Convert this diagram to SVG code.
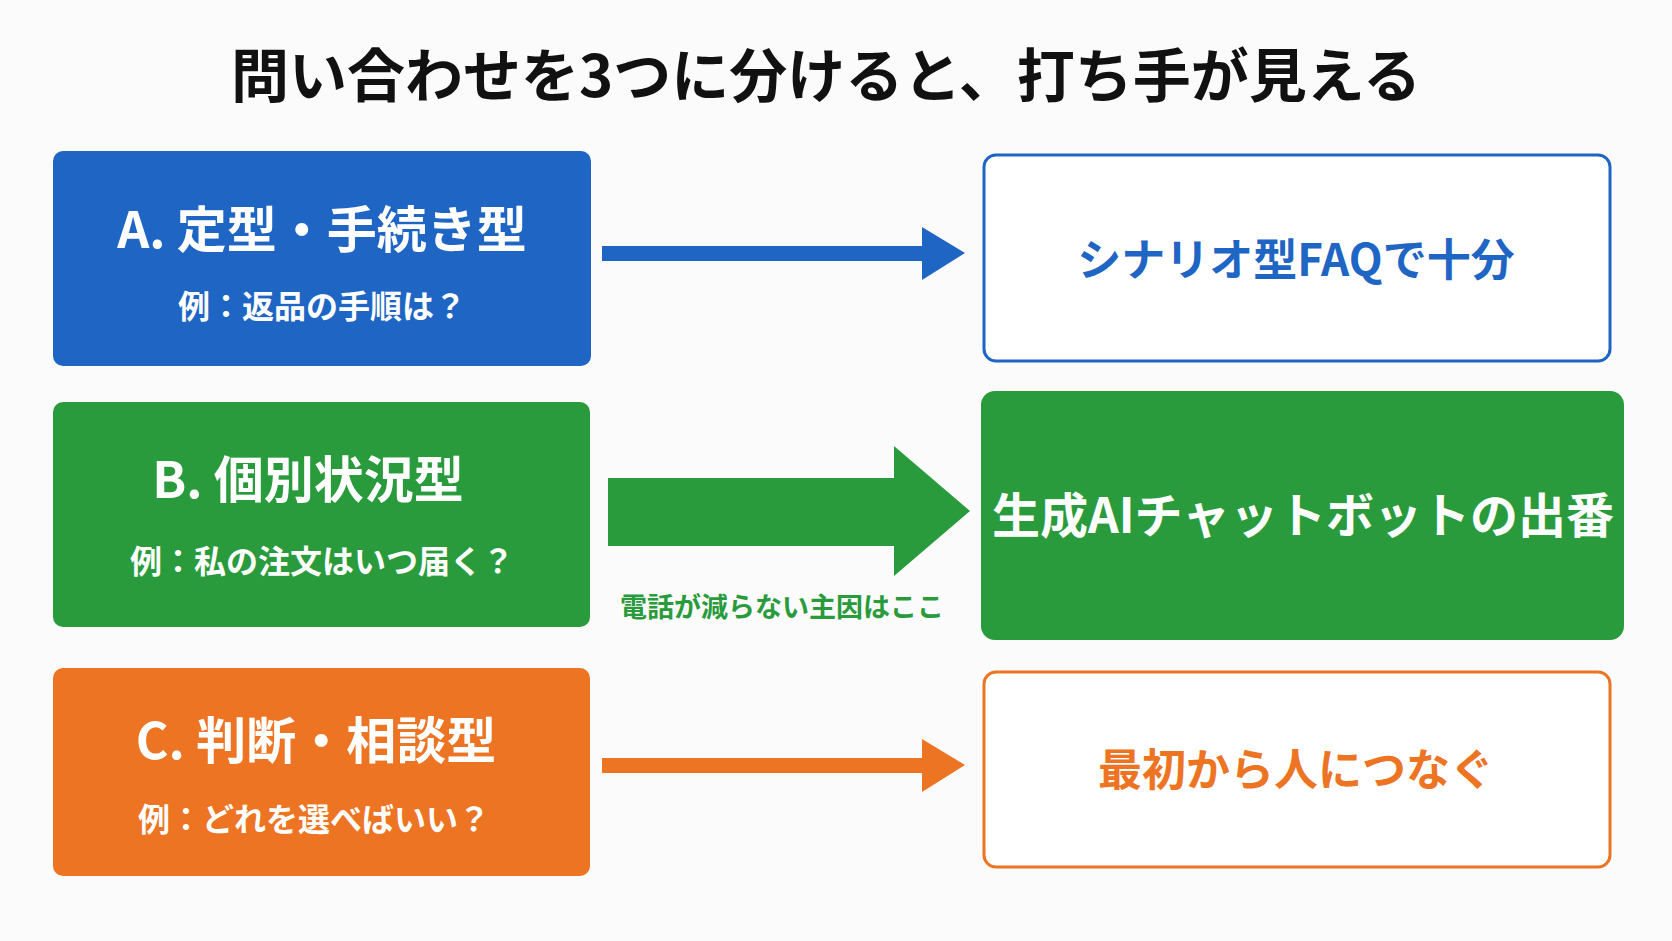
<svg xmlns="http://www.w3.org/2000/svg" width="1672" height="941" viewBox="0 0 1672 941">
<style>
text{font-family:"Noto Sans CJK JP","Noto Sans",sans-serif;font-weight:700;text-anchor:middle}
.w{fill:#fff}
.t{font-size:50px}
.s{font-size:32px}
.r{font-size:44px}
</style>
<rect width="1672" height="941" fill="#fbfbfb"/>
<text x="826" y="97" font-size="58" fill="#111">問い合わせを3つに分けると、打ち手が見える</text>
<g id="connectors">
<polygon points="602,246 922,246 922,227 965,253 922,280 922,261 602,261" fill="#1f65c4"/>
<polygon points="608,478 894,478 894,446 970,511 894,576 894,546 608,546" fill="#2a9b3c"/>
<polygon points="602,758 922,758 922,739 965,765 922,792 922,773 602,773" fill="#ec7423"/>
<text x="782" y="617" font-size="27" fill="#2a9b3c">電話が減らない主因はここ</text>
</g>
<g id="nodeA">
<rect x="53" y="151" width="538" height="215" rx="10" fill="#1f65c4"/>
<text class="w t" x="322" y="248">A. 定型・手続き型</text>
<text class="w s" x="322" y="318">例：返品の手順は？</text>
</g>
<g id="nodeA2">
<rect x="984" y="155" width="626" height="206" rx="12" fill="#fff" stroke="#1f65c4" stroke-width="3"/>
<text class="r" x="1296" y="276" fill="#1f65c4">シナリオ型FAQで十分</text>
</g>
<g id="nodeB">
<rect x="53" y="402" width="537" height="225" rx="10" fill="#2a9b3c"/>
<text class="w t" x="308" y="498">B. 個別状況型</text>
<text class="w s" x="322" y="573">例：私の注文はいつ届く？</text>
</g>
<g id="nodeB2">
<rect x="981" y="391" width="643" height="249" rx="14" fill="#2a9b3c"/>
<text class="w" x="1303" y="533" font-size="48">生成AIチャットボットの出番</text>
</g>
<g id="nodeC">
<rect x="53" y="668" width="537" height="208" rx="10" fill="#ec7423"/>
<text class="w t" x="316" y="759">C. 判断・相談型</text>
<text class="w s" x="314" y="831">例：どれを選べばいい？</text>
</g>
<g id="nodeC2">
<rect x="984" y="672" width="626" height="195" rx="12" fill="#fff" stroke="#ec7423" stroke-width="3"/>
<text class="r" x="1296" y="786" fill="#ec7423">最初から人につなぐ</text>
</g>
</svg>
